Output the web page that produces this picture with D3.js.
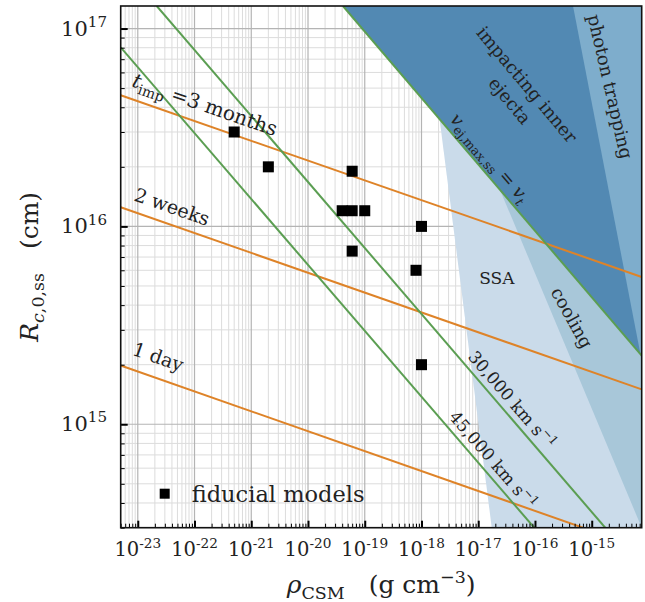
<!DOCTYPE html>
<html><head><meta charset="utf-8">
<script src="https://cdn.jsdelivr.net/npm/d3@7"></script>
<style>
body{margin:0;background:#fff}
svg{display:block}
text{font-family:"DejaVu Serif",serif;fill:#222}
</style>
</head><body>
<svg id="chart" width="645" height="602"></svg>
<script>
// ---------------- data ----------------
const xDomain = [5e-24, 7.6e-15];
const yDomain = [3e14, 1.3e17];
const xTickExp = [-23,-22,-21,-20,-19,-18,-17,-16,-15];
const yTickExp = [15,16,17];

const modelRho = [5e-22, 2e-21, 6e-20, 4e-20, 6e-20, 1e-19, 1e-18, 6e-20, 8e-19, 1e-18];
const modelR   = [3e16,  2e16,  1.9e16, 1.2e16, 1.2e16, 1.2e16, 1e16, 7.5e15, 6e15, 2e15];

// t_imp lines (orange): endpoints
const tImpNames = ["3 months", "2 weeks", "1 day"];
const tImpRho = [[5e-24, 7.6e-15], [5e-24, 7.6e-15], [5e-24, 7e-16]];
const tImpR   = [[4.6e16, 5.55e15], [1.25e16, 1.5e15], [1.98e15, 3e14]];

// velocity lines (green): 45,000 km/s, 30,000 km/s, v_ej,max,ss = v_t
const velNames = ["45,000", "30,000", "vt"];
const velRho = [[5e-24, 9.7e-17], [2.16e-23, 1.73e-15], [4.13e-20, 7.6e-15]];
const velR   = [[8.04e16, 3e14], [1.3e17, 3e14], [1.3e17, 2.22e15]];

// shaded regions
const ssaRho  = [1.16e-18, 1.73e-17, 7.6e-15, 7.6e-15];
const ssaR    = [1.3e17, 3e14, 3e14, 1.3e17];
const coolRho = [1.06e-18, 7.6e-15, 7.6e-15];
const coolR   = [1.3e17, 3e14, 1.3e17];
const impRho  = [4.13e-20, 7.6e-15, 7.6e-15];
const impR    = [1.3e17, 2.22e15, 1.3e17];
const photRho = [4.68e-16, 7.6e-15, 7.6e-15];
const photR   = [1.3e17, 2.1e15, 1.3e17];

// ---------------- setup ----------------
const W = 645, H = 602;
const m = {left: 120.7, right: 3.3, top: 6, bottom: 74.3};
const svg = d3.select("#chart");
const x = d3.scaleLog().domain(xDomain).range([m.left, W - m.right]);
const y = d3.scaleLog().domain(yDomain).range([H - m.bottom, m.top]);

const colors = {
  orange: "#de8328", green: "#5b9e52",
  ssa: "#cadbea", cool: "#a8c7d9", imp: "#5289b3", phot: "#7eadcc",
  gridMajor: "#b4b4b4", gridMinor: "#dcdcdc"
};

svg.append("defs").append("clipPath").attr("id","clip")
  .append("rect").attr("x", m.left).attr("y", m.top)
  .attr("width", W - m.left - m.right).attr("height", H - m.top - m.bottom);

function logTicks(domain){
  const lo = Math.floor(Math.log10(domain[0])), hi = Math.ceil(Math.log10(domain[1]));
  const major = [], minor = [];
  for (let n = lo; n <= hi; n++) for (let k = 1; k <= 9; k++) {
    const v = k * Math.pow(10, n);
    if (v < domain[0] || v > domain[1]) continue;
    (k === 1 ? major : minor).push(v);
  }
  return {major, minor};
}
const xt = logTicks(xDomain), yt = logTicks(yDomain);

// grid
const grid = svg.append("g");
xt.minor.forEach(v => grid.append("line").attr("x1", x(v)).attr("x2", x(v)).attr("y1", m.top).attr("y2", H - m.bottom)
  .attr("stroke", colors.gridMinor).attr("stroke-width", 1));
yt.minor.forEach(v => grid.append("line").attr("y1", y(v)).attr("y2", y(v)).attr("x1", m.left).attr("x2", W - m.right)
  .attr("stroke", colors.gridMinor).attr("stroke-width", 1));
xt.major.forEach(v => grid.append("line").attr("x1", x(v)).attr("x2", x(v)).attr("y1", m.top).attr("y2", H - m.bottom)
  .attr("stroke", colors.gridMajor).attr("stroke-width", 1.2));
yt.major.forEach(v => grid.append("line").attr("y1", y(v)).attr("y2", y(v)).attr("x1", m.left).attr("x2", W - m.right)
  .attr("stroke", colors.gridMajor).attr("stroke-width", 1.2));

const plot = svg.append("g").attr("clip-path", "url(#clip)");
function poly(rhos, Rs, fill){
  plot.append("path").attr("d", d3.line()(rhos.map((r,i)=>[x(r), y(Rs[i])])) + "Z").attr("fill", fill);
}
poly(ssaRho, ssaR, colors.ssa);
poly(coolRho, coolR, colors.cool);
poly(impRho, impR, colors.imp);
poly(photRho, photR, colors.phot);

const line = d3.line().x(d=>x(d[0])).y(d=>y(d[1]));
tImpRho.forEach((r,i)=>{
  plot.append("path").attr("d", line(r.map((v,j)=>[v, tImpR[i][j]])))
    .attr("stroke", colors.orange).attr("stroke-width", 2).attr("fill","none");
});
velRho.forEach((r,i)=>{
  plot.append("path").attr("d", line(r.map((v,j)=>[v, velR[i][j]])))
    .attr("stroke", colors.green).attr("stroke-width", 2).attr("fill","none");
});

// squares
const sq = 11;
plot.selectAll("rect.model").data(modelRho).enter().append("rect")
  .attr("x", (d,i)=>x(d) - sq/2).attr("y", (d,i)=>y(modelR[i]) - sq/2)
  .attr("width", sq).attr("height", sq).attr("fill", "#000");

// rich text helper
function rich(g, parts, fs, supScale){
  const sc = supScale || 0.7;
  const t = g.append("text").attr("font-size", fs).style("white-space","pre");
  let cur = 0;
  parts.forEach(p=>{
    const shift = p.sub ? 0.25*fs : p.sup ? -0.42*fs : 0;
    const ts = t.append("tspan").text(p.t).attr("dy", shift - cur);
    cur = shift;
    if (p.sub || p.sup) ts.attr("font-size", sc*fs);
    if (p.it) ts.attr("font-style", "italic");
  });
  return t;
}
function lineAngle(rhos, Rs){
  return Math.atan2(y(Rs[1]) - y(Rs[0]), x(rhos[1]) - x(rhos[0])) * 180 / Math.PI;
}

// annotations (anchored in data coordinates)
const ann = [
  {parts:[{t:"t",it:true},{t:"imp",sub:true},{t:" =3 months"}], rho:1.53e-22, R:4.13e16, ang:lineAngle(tImpRho[0], tImpR[0]), fs:20},
  {parts:[{t:"2 weeks"}], rho:4.02e-23, R:1.257e16, ang:lineAngle(tImpRho[1], tImpR[1]), fs:19},
  {parts:[{t:"1 day"}], rho:2.28e-23, R:2.19e15, ang:lineAngle(tImpRho[2], tImpR[2]), fs:19},
  {parts:[{t:"30,000 km s"},{t:"−1",sup:true}], rho:3.92e-17, R:1.327e15, ang:lineAngle(velRho[1], velR[1]), fs:17},
  {parts:[{t:"45,000 km s"},{t:"−1",sup:true}], rho:1.81e-17, R:6.6e14, ang:lineAngle(velRho[0], velR[0]), fs:17},
  {parts:[{t:"v",it:true},{t:"ej,max,ss",sub:true},{t:" = "},{t:"v",it:true},{t:"t",sub:true,it:true}], rho:1.61e-17, R:2.225e16, ang:lineAngle(velRho[2], velR[2]), fs:18},
  {parts:[{t:"impacting inner"}], rho:7.2e-17, R:5.21e16, ang:50, fs:18},
  {parts:[{t:"ejecta"}], rho:3.61e-17, R:4.32e16, ang:50, fs:18},
  {parts:[{t:"photon trapping"}], rho:2.125e-15, R:5.09e16, ang:77, fs:18},
  {parts:[{t:"SSA"}], rho:2.13e-17, R:5.5e15, ang:0, fs:17},
  {parts:[{t:"cooling"}], rho:4.47e-16, R:3.45e15, ang:61, fs:18}
];
const annG = svg.append("g");
ann.forEach(a=>{
  const g = annG.append("g").attr("transform", `translate(${x(a.rho)},${y(a.R)}) rotate(${a.ang})`);
  rich(g, a.parts, a.fs).attr("text-anchor","middle").attr("y", a.fs*0.35);
});

// axes ticks (inside)
const bottom = H - m.bottom;
svg.append("g").attr("transform", `translate(0,${bottom})`)
  .call(d3.axisBottom(x).tickValues(xt.minor).tickSizeInner(-4).tickSizeOuter(0).tickFormat(""))
  .call(g=>{g.select(".domain").remove(); g.selectAll("line").attr("stroke","#000").attr("stroke-width",1);});
svg.append("g").attr("transform", `translate(0,${bottom})`)
  .call(d3.axisBottom(x).tickValues(xt.major).tickSizeInner(-7).tickSizeOuter(0).tickFormat(""))
  .call(g=>{g.select(".domain").remove(); g.selectAll("line").attr("stroke","#000").attr("stroke-width",2);});
svg.append("g").attr("transform", `translate(${m.left},0)`)
  .call(d3.axisLeft(y).tickValues(yt.minor).tickSizeInner(-4).tickSizeOuter(0).tickFormat(""))
  .call(g=>{g.select(".domain").remove(); g.selectAll("line").attr("stroke","#000").attr("stroke-width",1);});
svg.append("g").attr("transform", `translate(${m.left},0)`)
  .call(d3.axisLeft(y).tickValues(yt.major).tickSizeInner(-7).tickSizeOuter(0).tickFormat(""))
  .call(g=>{g.select(".domain").remove(); g.selectAll("line").attr("stroke","#000").attr("stroke-width",2);});

// spines
svg.append("rect").attr("x", m.left).attr("y", m.top).attr("width", W - m.left - m.right).attr("height", H - m.top - m.bottom)
  .attr("fill","none").attr("stroke","#111").attr("stroke-width",1.6);

// tick labels
const tl = svg.append("g");
xTickExp.forEach(e=>{
  const g = tl.append("g").attr("transform", `translate(${x(Math.pow(10,e))},556)`);
  rich(g, [{t:"10"},{t:"-"+(-e), sup:true}], 19.5).attr("text-anchor","middle");
});
yTickExp.forEach(e=>{
  const g = tl.append("g").attr("transform", `translate(107,${y(Math.pow(10,e))+7})`);
  rich(g, [{t:"10"},{t:String(e), sup:true}], 21, 0.72).attr("text-anchor","end");
});

// axis labels
const xl = svg.append("g").attr("transform", `translate(${(m.left + W - m.right)/2},593)`);
rich(xl, [{t:"ρ",it:true},{t:"CSM",sub:true},{t:"   (g cm"},{t:"−3",sup:true},{t:")"}], 25).attr("text-anchor","middle");
const yl = svg.append("g").attr("transform", `translate(38,${(m.top + H - m.bottom)/2}) rotate(-90)`);
rich(yl, [{t:"R",it:true},{t:"c",sub:true,it:true},{t:",0,ss",sub:true},{t:"   (cm)"}], 25).attr("text-anchor","middle");

// legend
const lg = svg.append("g").attr("transform", `translate(${m.left},${bottom})`);
lg.append("rect").attr("x", 39).attr("y", -39).attr("width", 10).attr("height", 10).attr("fill","#000");
lg.append("text").attr("x", 71).attr("y", -26).attr("font-size", 22.5).text("fiducial models");
</script>
</body></html>
